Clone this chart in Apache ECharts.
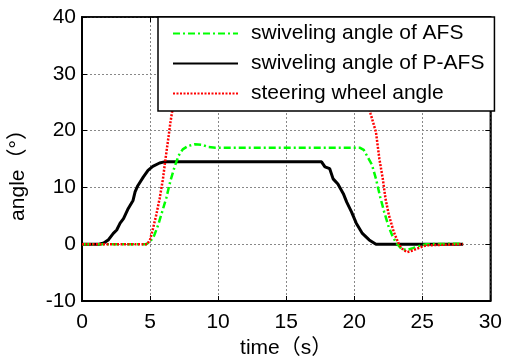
<!DOCTYPE html>
<html>
<head>
<meta charset="utf-8">
<script src="https://cdn.jsdelivr.net/npm/echarts@6/dist/echarts.min.js"></script>
<style>
  html, body { margin: 0; padding: 0; background: #fff; }
  #chart { width: 505px; height: 364px; }
</style>
</head>
<body>
<div id="chart"></div>
<script>
// values
var seriesNames = ['swiveling angle of AFS', 'swiveling angle of P-AFS', 'steering wheel angle'];

var afsTime  = [0, 4.7, 5.0, 5.3, 5.6, 5.9, 6.2, 6.5, 6.8, 7.1, 7.4, 7.8, 8.3, 8.8, 9.3, 9.8, 20.4, 20.7, 21.0, 21.3, 21.6, 21.9, 22.2, 22.5, 22.8, 23.1, 23.5, 23.9, 24.3, 24.8, 25.3, 28];
var afsAngle = [0, 0, 0.4, 1.5, 3.4, 5.8, 8.2, 11.2, 13.6, 15.6, 16.7, 17.3, 17.6, 17.5, 17.1, 17.0, 17.0, 16.6, 15.3, 14.0, 11.5, 8.4, 5.7, 3.3, 1.5, 0.2, -0.9, -1.0, -0.7, -0.3, 0, 0.1];

var pafsTime  = [0, 1.25, 1.6, 1.95, 2.3, 2.55, 2.8, 3.05, 3.4, 3.75, 3.9, 4.1, 4.5, 4.85, 5.2, 5.7, 6.05, 17.6, 17.85, 18.2, 18.45, 18.8, 19.2, 19.45, 19.8, 20.15, 20.6, 21.1, 21.6, 28];
var pafsAngle = [0, 0, 0.2, 0.8, 1.9, 2.5, 3.7, 4.5, 6.3, 7.7, 9.2, 10.3, 11.8, 13.0, 13.7, 14.3, 14.5, 14.5, 13.6, 13.3, 11.5, 10.6, 8.9, 7.4, 5.7, 3.7, 1.9, 0.75, 0, 0];

var steerTime  = [0, 4.8, 5.0, 5.2, 5.45, 5.7, 5.95, 6.1, 6.3, 6.5, 6.8, 7.3, 8, 20, 20.7, 21.2, 21.6, 21.85, 22.1, 22.3, 22.55, 22.9, 23.3, 23.6, 23.9, 24.3, 24.8, 25.3, 28];
var steerAngle = [0, 0, 0.8, 2.6, 5.1, 8.0, 11.5, 14.4, 17.9, 21.5, 26, 30, 31, 31, 28, 23, 19.7, 15, 11.5, 8, 5.1, 2.2, -0.1, -1.0, -1.4, -1.1, -0.6, -0.2, 0];

var xTicks = [0, 5, 10, 15, 20, 25, 30];
var yTicks = [-10, 0, 10, 20, 30, 40];

function pairs(xs, ys) {
  return xs.map(function (x, i) { return [x, ys[i]]; });
}

var FONT = '"Liberation Sans", Arial, "Noto Sans CJK SC", sans-serif';

var chart = echarts.init(document.getElementById('chart'), null, {renderer: 'canvas'});

var gridLine = {show: true, lineStyle: {color: '#888', width: 1, type: [2, 2]}};

var option = {
  animation: false,
  backgroundColor: '#fff',
  textStyle: {fontFamily: FONT},
  grid: {
    left: 78, right: 12, top: 17, bottom: 58,
    show: true, borderColor: '#000', borderWidth: 1.5
  },
  legend: {
    data: seriesNames,
    orient: 'vertical',
    left: 158,
    top: 17,
    z: 10,
    backgroundColor: '#fff',
    borderColor: '#000',
    borderWidth: 1.5,
    borderRadius: 0,
    padding: [6, 10, 7, 14],
    itemWidth: 65,
    itemHeight: 14,
    itemGap: 9,
    itemStyle: {opacity: 0},
    textStyle: {fontSize: 21, color: '#000', fontFamily: FONT, lineHeight: 20, padding: [0, 0, 0, 8]}
  },
  xAxis: [{
    type: 'value',
    min: xTicks[0], max: xTicks[xTicks.length - 1], interval: 5,
    name: 'time（s）',
    nameLocation: 'middle',
    nameGap: 37,
    nameTextStyle: {fontSize: 21, color: '#000', fontFamily: FONT},
    axisLine: {show: true, onZero: false, lineStyle: {color: '#000', width: 2}},
    axisTick: {show: true, inside: true, length: 5, lineStyle: {color: '#000'}},
    axisLabel: {fontSize: 21, color: '#000', margin: 11, fontFamily: FONT},
    splitLine: gridLine
  }, {
    type: 'value', position: 'top',
    min: xTicks[0], max: xTicks[xTicks.length - 1], interval: 5,
    axisLine: {show: true, onZero: false, lineStyle: {color: '#000', width: 1.5}},
    axisTick: {show: true, inside: true, length: 5, lineStyle: {color: '#000'}},
    axisLabel: {show: false},
    splitLine: {show: false}
  }],
  yAxis: [{
    type: 'value',
    min: yTicks[0], max: yTicks[yTicks.length - 1], interval: 10,
    name: 'angle（°）',
    nameLocation: 'middle',
    nameGap: 53,
    nameTextStyle: {fontSize: 21, color: '#000', fontFamily: FONT, padding: [0, 22, 0, 0]},
    axisLine: {show: true, onZero: false, lineStyle: {color: '#000', width: 2}},
    axisTick: {show: true, inside: true, length: 5, lineStyle: {color: '#000'}},
    axisLabel: {fontSize: 21, color: '#000', margin: 6, fontFamily: FONT},
    splitLine: gridLine
  }, {
    type: 'value', position: 'right',
    min: yTicks[0], max: yTicks[yTicks.length - 1], interval: 10,
    axisLine: {show: true, onZero: false, lineStyle: {color: '#000', width: 1.5}},
    axisTick: {show: true, inside: true, length: 5, lineStyle: {color: '#000'}},
    axisLabel: {show: false},
    splitLine: {show: false}
  }],
  series: [
    {
      name: seriesNames[0],
      type: 'line',
      data: pairs(afsTime, afsAngle),
      symbol: 'none',
      z: 3,
      lineStyle: {color: '#00ff00', width: 2.5, type: [7, 3, 2, 3]},
      itemStyle: {color: '#00ff00'}
    },
    {
      name: seriesNames[1],
      type: 'line',
      data: pairs(pafsTime, pafsAngle),
      symbol: 'none',
      z: 2,
      lineStyle: {color: '#000', width: 3, type: 'solid'},
      itemStyle: {color: '#000'}
    },
    {
      name: seriesNames[2],
      type: 'line',
      data: pairs(steerTime, steerAngle),
      symbol: 'none',
      z: 4,
      lineStyle: {color: '#ff0000', width: 2.5, type: [2, 1.5]},
      itemStyle: {color: '#ff0000'}
    }
  ]
};

chart.setOption(option);
</script>
</body>
</html>
